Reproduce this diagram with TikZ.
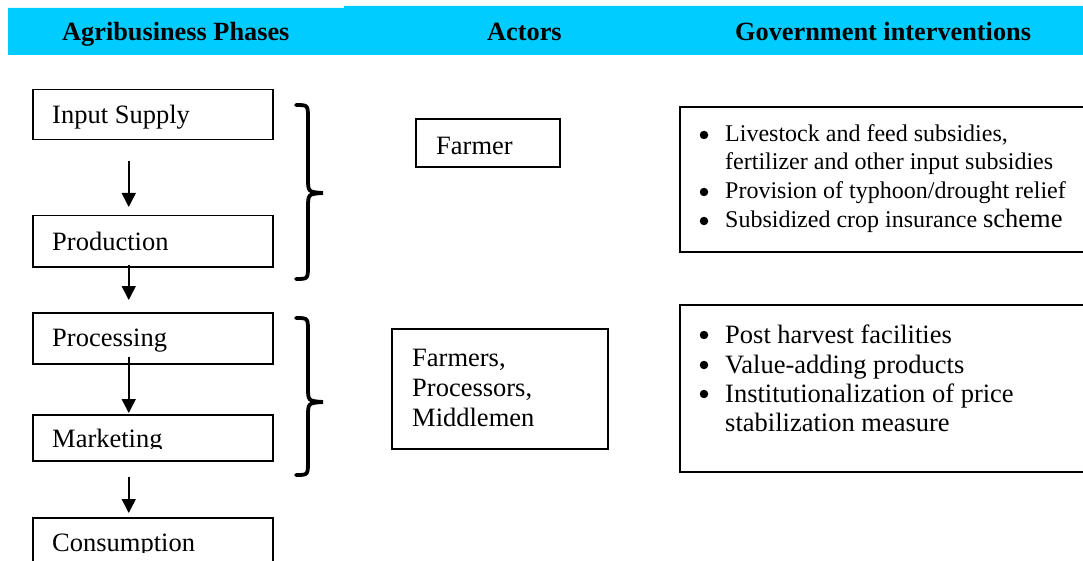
\documentclass[tikz,border=0pt]{standalone}
\usepackage{fontspec}
\setmainfont{Liberation Serif}
\usetikzlibrary{arrows.meta}
\definecolor{band}{HTML}{00CCFF}
\begin{document}
\begin{tikzpicture}[x=1pt,y=-1pt,
  phase/.style={draw,line width=1.5pt,anchor=north west,minimum width=240pt,inner sep=0pt},
  ptext/.style={anchor=base west,inner sep=0pt,font=\fontsize{26.5}{30}\selectfont},
  head/.style={anchor=base west,inner sep=0pt,font=\fontsize{26.3}{30}\selectfont\bfseries},
  gtext/.style={anchor=base west,inner sep=0pt,font=\fontsize{24}{28}\selectfont},
  gtextb/.style={anchor=base west,inner sep=0pt,font=\fontsize{26.5}{30}\selectfont},
  dot/.style={circle,fill,inner sep=0pt,minimum size=8.5pt},
  abox/.style={draw,line width=2.5pt},
  arr/.style={-{Triangle[length=14pt,width=14pt]},line width=1.5pt},
  brace/.style={line width=3.8pt,line cap=round},
]
\clip (0,0) rectangle (1083,561);
% header band
\fill[band] (8,8) -- (344,8) -- (344,6) -- (1083,6) -- (1083,55) -- (8,55) -- cycle;
\node[head] (h1) at (62,41) {Agribusiness Phases};
\node[head] (h2) at (487,41) {Actors};
\node[head] (h3) at (735,41) {Government interventions};
% phase boxes
\node[phase,minimum height=50pt] (in) at (32,89) {};
\node[ptext] (tin) at (52,124) {Input Supply};
\node[phase,minimum height=51pt] (prod) at (32,215) {};
\node[ptext] (tprod) at (52,251) {Production};
\node[phase,minimum height=51pt] (proc) at (32,312) {};
\node[ptext] (tproc) at (52,346) {Processing};
\node[phase,minimum height=46pt] (mark) at (32,414) {};
\begin{scope}
\clip (32,400) rectangle (272,448);
\node[ptext] (tmark) at (52,447) {Marketing};
\end{scope}
\node[phase,minimum height=80pt] (cons) at (32,517) {};
\begin{scope}
\clip (32,500) rectangle (272,552.5);
\node[ptext] (tcons) at (52,551) {Consumption};
\end{scope}
% arrows
\draw[arr] ([shift={(-24pt,-21pt)}]in.south) -- ([shift={(-24pt,8pt)}]prod.north);
\draw[arr] ([shift={(-24pt,3pt)}]prod.south) -- ([shift={(-24pt,12pt)}]proc.north);
\draw[arr] ([shift={(-24pt,8pt)}]proc.south) -- ([shift={(-24pt,1pt)}]mark.north);
\draw[arr] ([shift={(-24pt,-15pt)}]mark.south) -- ([shift={(-24pt,4pt)}]cons.north);
% braces
\draw[brace] (296,105) .. controls (308,105) .. (308,119) -- (308,178) .. controls (308,192) .. (323,193) .. controls (308,194) .. (308,208) -- (308,265) .. controls (308,279) .. (296,279);
\draw[brace] (296,318) .. controls (308,318) .. (308,332) -- (308,387) .. controls (308,401) .. (323,402) .. controls (308,403) .. (308,417) -- (308,461) .. controls (308,475) .. (296,475);
% actors
\draw[abox] (416,119) rectangle (560,167);
\node[ptext] (farmer) at (436,155) {Farmer};
\draw[abox] (392,329) rectangle (608,449);
\node[ptext] (f1) at (412,366) {Farmers,};
\node[ptext] (f2) at (412,396) {Processors,};
\node[ptext] (f3) at (412,426) {Middlemen};
% government boxes
\draw[abox] (680,107) rectangle (1095,252);
\node[dot] (b1) at (704,135) {};
\node[gtext] (g1) at (725,142) {Livestock and feed subsidies,};
\node[gtext] (g2) at (725,170) {fertilizer and other input subsidies};
\node[dot] (b2) at (704,192) {};
\node[gtext] (g3) at (725,199) {Provision of typhoon/drought relief};
\node[dot] (b3) at (704,221) {};
\node[gtext] (g4) at (725,228) {Subsidized crop insurance \fontsize{26.5}{30}\selectfont scheme};
\draw[abox] (680,305) rectangle (1095,472);
\node[dot] (c1) at (704,335) {};
\node[gtextb] (k1) at (725,343) {Post harvest facilities};
\node[dot] (c2) at (704,365) {};
\node[gtextb] (k2) at (725,373) {Value-adding products};
\node[dot] (c3) at (704,394) {};
\node[gtextb] (k3) at (725,402) {Institutionalization of price};
\node[gtextb] (k4) at (725,431) {stabilization measure};
\end{tikzpicture}
\end{document}
